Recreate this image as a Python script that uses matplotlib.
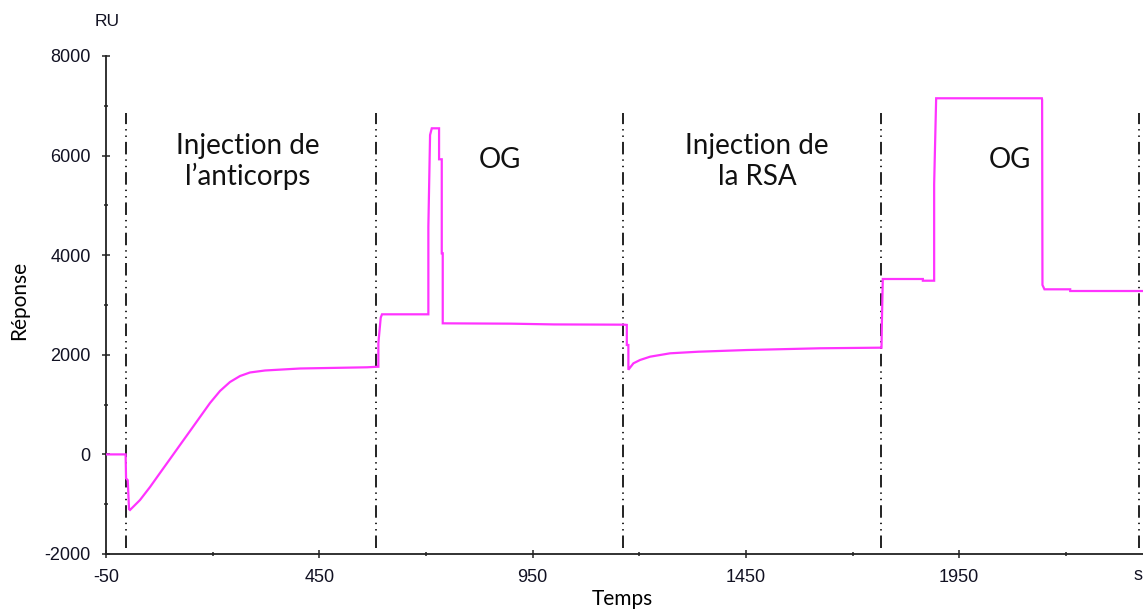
import matplotlib
matplotlib.use("Agg")
import matplotlib.pyplot as plt
import numpy as np

plt.rcParams['lines.scale_dashes'] = False

# ---- data (time in s, response in RU) ----
temps = [-50, -4, -3, 1, 4, 6.3, 29.7, 53.2, 76.6, 100.1, 123.5, 147, 170.4,
         193.8, 217.3, 240.7, 264.2, 287.6, 322.8, 404.9, 561.9, 586, 588.5, 588.5,
         594, 597, 705.7, 705.7, 709.7, 713.7, 730.8, 730.8, 737.1, 737.1,
         739.4, 739.4, 900, 1000, 1165, 1170.9, 1170.9, 1174.6, 1174.6,
         1186.4, 1202, 1225.5, 1272.4, 1338.7, 1452.2, 1624.1, 1766,
         1768, 1769, 1771, 1864.9, 1864.9, 1891.4, 1891.4, 1896.1, 2143.9,
         2144.5, 2145.3, 2150, 2210.3, 2210.3, 2385]
reponse = [0, 0, -480, -520, -1100, -1116, -916, -655, -373, -92, 189, 470, 751,
           1032, 1274, 1454, 1574, 1645, 1685, 1725, 1749, 1760, 1760, 2231,
           2745, 2813, 2813, 4572, 6414, 6548, 6548, 5926, 5926, 4038,
           4038, 2632, 2625, 2610, 2605, 2600, 2197, 2197, 1700,
           1829, 1896, 1962, 2030, 2062, 2096, 2131, 2143,
           2143, 2699, 3522, 3522, 3488, 3488, 5424, 7151, 7151,
           7120, 3402, 3315, 3315, 3281, 3281]

injections = [-4, 582, 1161, 1767, 2372]

annot_texts = ["Injection de\nl\u2019anticorps", "OG", "Injection de\nla RSA", "OG"]
annot_x = [283, 874, 1476, 2070]
annot_y = [5880, 5912, 5880, 5912]

xticks = [-50, 450, 950, 1450, 1950]
xminor = [200, 700, 1200, 1700, 2200]
yticks = [-2000, 0, 2000, 4000, 6000, 8000]
yminor = [-1000, 1000, 3000, 5000, 7000]

# ---- figure ----
W, H = 1143, 611
fig = plt.figure(figsize=(W / 100, H / 100), dpi=100)
ax = fig.add_axes([106 / W, 1 - 554 / H, (W - 106) / W, (554 - 56) / H])

ax.plot(temps, reponse, color='#ff33ff', lw=1.6, solid_joinstyle='miter', zorder=3)

for xv in injections:
    ax.axvline(xv, ymin=0.012, ymax=0.886, color='#111111', lw=1.3,
               linestyle=(0, (9, 3.6, 1, 3.6, 1, 3.6)), zorder=2)

for txt, xv, yv in zip(annot_texts, annot_x, annot_y):
    ax.text(xv, yv, txt, ha='center', va='center', fontsize=20,
            family='Lato', color='#111111', linespacing=1.2)

ax.set_xlim(-50, 2381)
ax.set_ylim(-2000, 8000)
ax.set_xticks(xticks)
ax.set_xticks(xminor, minor=True)
ax.set_yticks(yticks)
ax.set_yticks(yminor, minor=True)
ax.set_xticklabels([str(v) for v in xticks])
ax.set_yticklabels([str(v) for v in yticks])

for s in ['top', 'right']:
    ax.spines[s].set_visible(False)
for s in ['left', 'bottom']:
    ax.spines[s].set_linewidth(1.3)
    ax.spines[s].set_color('#222222')

ax.tick_params(which='major', direction='inout', length=6, width=1.1,
               color='#222222', labelsize=13, labelcolor='#111122')
ax.tick_params(axis='x', which='major', pad=8)
ax.tick_params(axis='y', which='major', pad=8)
ax.tick_params(which='minor', direction='inout', length=3, width=1.1, color='#222222')
for lab in ax.get_xticklabels() + ax.get_yticklabels():
    lab.set_family('Liberation Sans')

ax.set_xlabel('Temps', family='Lato', fontsize=15)
ax.set_ylabel('R\u00e9ponse', family='Lato', fontsize=15)
ax.xaxis.set_label_coords((622 - 106) / (W - 106), -(589 - 554) / (554 - 56))
ax.yaxis.set_label_coords(-(106 - 29) / (W - 106), (554 - 300) / (554 - 56))

fig.text(107 / W, 1 - 22 / H, 'RU', ha='center', va='center',
         family='Liberation Sans', fontsize=12.5, color='#111122')
fig.text(1133 / W, 1 - 576 / H, 's', ha='left', va='center',
         family='Liberation Sans', fontsize=13, color='#111122')

fig.savefig('out.png', dpi=100)
